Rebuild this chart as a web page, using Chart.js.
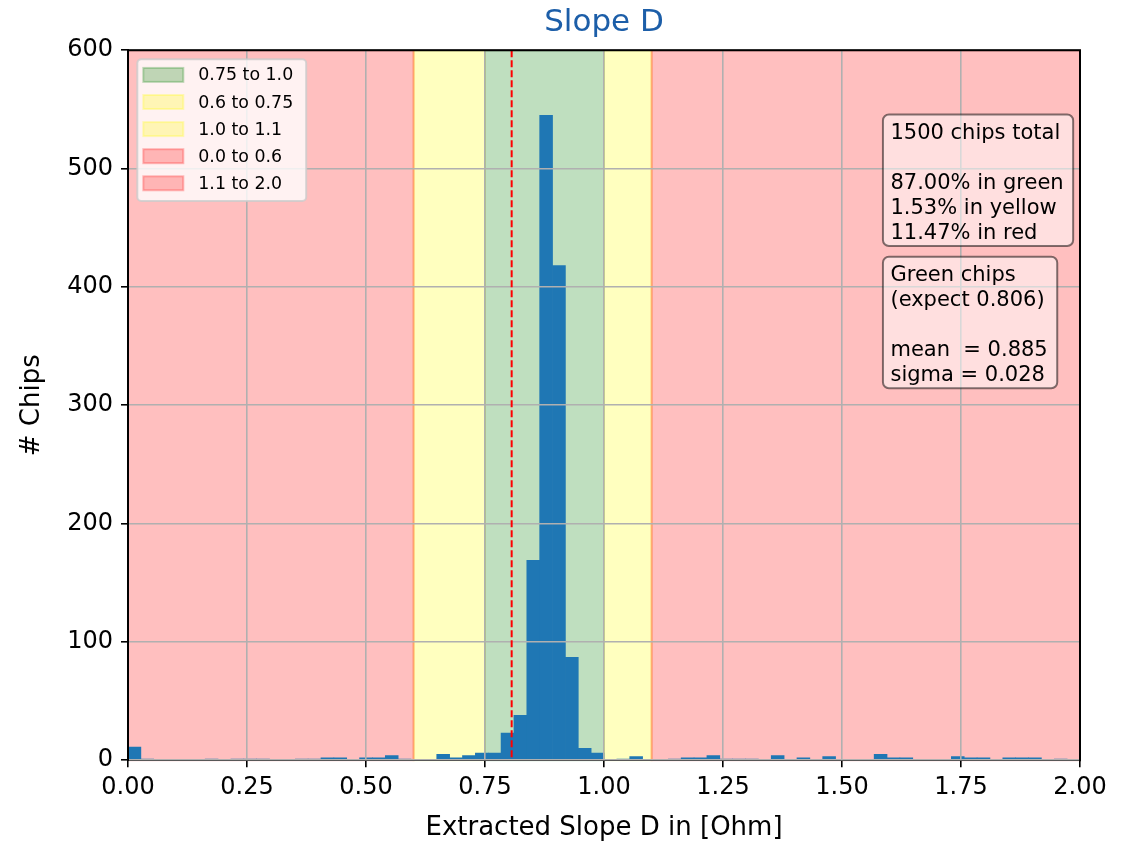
<!DOCTYPE html>
<html>
<head>
<meta charset="utf-8">
<script src="https://cdn.jsdelivr.net/npm/chart.js@4.4.1/dist/chart.umd.min.js"></script>
<style>
  html, body { margin: 0; padding: 0; background: #fff; }
</style>
</head>
<body>
<canvas id="chart" width="1139" height="841"></canvas>
<script>
// histogram: 74 equal bins over [0, 2]
const binRange = [0, 2];
const binCounts = [
  11, 1, 0, 0, 0, 0, 1, 0, 1, 1,
  1, 0, 0, 1, 1, 2, 2, 0, 2, 2,
  4, 1, 0, 0, 5, 2, 4, 6, 6, 23,
  38, 169, 545, 418, 87, 10, 6, 0, 1, 3,
  0, 0, 1, 2, 2, 4, 1, 1, 1, 0,
  4, 0, 2, 0, 3, 0, 0, 0, 5, 2,
  2, 0, 0, 0, 3, 2, 2, 0, 2, 2,
  2, 0, 1, 0
];
const xTicks = [0, 0.25, 0.5, 0.75, 1.0, 1.25, 1.5, 1.75, 2.0];
const yTicks = [0, 100, 200, 300, 400, 500, 600];

// colour zones (legend order)
const bandLabels = ['0.75 to 1.0', '0.6 to 0.75', '1.0 to 1.1', '0.0 to 0.6', '1.1 to 2.0'];
const bandStart = [0.75, 0.6, 1.0, 0.0, 1.1];
const bandEnd = [1.0, 0.75, 1.1, 0.6, 2.0];
const bandZone = ['green', 'yellow', 'yellow', 'red', 'red'];

const expectedSlope = 0.806;
const summaryLines = ['1500 chips total', '', '87.00% in green', '1.53% in yellow', '11.47% in red'];
const greenLines = ['Green chips', '(expect 0.806)', '', 'mean  = 0.885', 'sigma = 0.028'];

const zoneColors = {
  green: 'rgba(0,128,0,0.25)',
  yellow: 'rgba(255,255,0,0.25)',
  red: 'rgba(255,0,0,0.25)'
};

Chart.defaults.font.family = "'DejaVu Sans', sans-serif";
Chart.defaults.color = '#000';

const binWidth = (binRange[1] - binRange[0]) / binCounts.length;
const histData = binCounts.map((c, i) => ({ x: binRange[0] + (i + 0.5) * binWidth, y: c }));

function roundRect(ctx, x, y, w, h, r) {
  ctx.beginPath();
  ctx.moveTo(x + r, y);
  ctx.lineTo(x + w - r, y);
  ctx.arcTo(x + w, y, x + w, y + r, r);
  ctx.lineTo(x + w, y + h - r);
  ctx.arcTo(x + w, y + h, x + w - r, y + h, r);
  ctx.lineTo(x + r, y + h);
  ctx.arcTo(x, y + h, x, y + h - r, r);
  ctx.lineTo(x, y + r);
  ctx.arcTo(x, y, x + r, y, r);
  ctx.closePath();
}

function textBox(ctx, lines, left, top) {
  const lineH = 25;
  ctx.font = "21px 'DejaVu Sans'";
  const w = Math.max(...lines.map(l => ctx.measureText(l).width)) + 17;
  const h = lines.length * lineH + 6.5;
  roundRect(ctx, left, top, w, h, 6);
  ctx.fillStyle = 'rgba(255,255,255,0.5)';
  ctx.fill();
  ctx.strokeStyle = 'rgba(0,0,0,0.5)';
  ctx.lineWidth = 2;
  ctx.stroke();
  ctx.fillStyle = '#000';
  ctx.textBaseline = 'alphabetic';
  ctx.textAlign = 'left';
  lines.forEach((l, i) => ctx.fillText(l, left + 7.5, top + 24 + i * lineH));
}

const overlay = {
  id: 'overlay',
  beforeDraw(chart) {
    const { ctx, chartArea: a, scales: { x } } = chart;
    ctx.save();
    ctx.fillStyle = '#fff';
    ctx.fillRect(0, 0, chart.width, chart.height);
    bandStart.forEach((s, i) => {
      const l = x.getPixelForValue(s), r = x.getPixelForValue(bandEnd[i]);
      ctx.fillStyle = zoneColors[bandZone[i]];
      ctx.fillRect(l, a.top, r - l, a.bottom - a.top);
      ctx.strokeStyle = zoneColors[bandZone[i]];
      ctx.lineWidth = 2;
      ctx.strokeRect(l, a.top, r - l, a.bottom - a.top);
    });
    ctx.restore();
  },
  afterDraw(chart) {
    const { ctx, chartArea: a, scales: { x } } = chart;
    ctx.save();
    // expected value
    const ex = x.getPixelForValue(expectedSlope);
    ctx.strokeStyle = '#ff0000';
    ctx.lineWidth = 2;
    ctx.setLineDash([7, 3]);
    ctx.beginPath();
    ctx.moveTo(ex, a.top);
    ctx.lineTo(ex, a.bottom);
    ctx.stroke();
    ctx.setLineDash([]);

    // top / right spines
    ctx.strokeStyle = '#000';
    ctx.lineWidth = 2;
    ctx.beginPath();
    ctx.moveTo(a.left - 1, a.top);
    ctx.lineTo(a.right, a.top);
    ctx.lineTo(a.right, a.bottom + 1);
    ctx.stroke();

    // legend
    ctx.font = "17.4px 'DejaVu Sans'";
    const maxW = Math.max(...bandLabels.map(l => ctx.measureText(l).width));
    const lx = a.left + 9.3, ly = a.top + 9;
    roundRect(ctx, lx, ly, 61 + maxW + 13, 141.7, 4);
    ctx.fillStyle = 'rgba(255,255,255,0.8)';
    ctx.fill();
    ctx.strokeStyle = 'rgba(204,204,204,0.8)';
    ctx.lineWidth = 2;
    ctx.stroke();
    bandLabels.forEach((lab, i) => {
      const cy = ly + 15.7 + i * 27.1;
      ctx.fillStyle = zoneColors[bandZone[i]];
      ctx.fillRect(lx + 6, cy - 7, 40, 14);
      ctx.strokeStyle = zoneColors[bandZone[i]];
      ctx.strokeRect(lx + 6, cy - 7, 40, 14);
      ctx.fillStyle = '#000';
      ctx.textBaseline = 'middle';
      ctx.fillText(lab, lx + 61, cy + 1);
    });

    // text boxes
    const w = a.right - a.left, h = a.bottom - a.top;
    textBox(ctx, summaryLines, a.left + 0.793 * w, a.top + 0.0906 * h);
    textBox(ctx, greenLines, a.left + 0.793 * w, a.top + 0.291 * h);
    ctx.restore();
  }
};

new Chart(document.getElementById('chart'), {
  type: 'bar',
  data: {
    datasets: [{
      data: histData,
      backgroundColor: '#1f77b4',
      borderWidth: 0,
      barPercentage: 1,
      categoryPercentage: 1
    }]
  },
  options: {
    responsive: false,
    animation: false,
    layout: { padding: { left: 13, right: 59, top: 1, bottom: 0 } },
    plugins: {
      legend: { display: false },
      tooltip: { enabled: false },
      title: {
        display: true,
        fullSize: false,
        text: 'Slope D',
        color: '#1c5ea8',
        font: { size: 31, weight: 'normal' },
        padding: { top: 3, bottom: 9 }
      }
    },
    scales: {
      x: {
        type: 'linear',
        min: 0,
        max: 2,
        offset: false,
        afterBuildTicks: axis => { axis.ticks = xTicks.map(v => ({ value: v })); },
        ticks: { callback: v => v.toFixed(2), font: { size: 24 }, padding: 6, maxRotation: 0 },
        grid: { color: '#b0b0b0', lineWidth: 1.6, z: 1, tickLength: 7, tickColor: '#000', tickWidth: 1.6, offset: false },
        border: { color: '#000', width: 2, z: 1 },
        title: { display: true, text: 'Extracted Slope D in [Ohm]', font: { size: 26, lineHeight: 1.0 }, padding: { top: 7, bottom: 0 } }
      },
      y: {
        min: 0,
        max: 600,
        afterBuildTicks: axis => { axis.ticks = yTicks.map(v => ({ value: v })); },
        ticks: { font: { size: 24 }, padding: 8 },
        grid: { color: '#b0b0b0', lineWidth: 1.6, z: 1, tickLength: 7, tickColor: '#000', tickWidth: 1.6 },
        border: { color: '#000', width: 2, z: 1 },
        title: { display: true, text: '# Chips', font: { size: 26 }, padding: { top: 4, bottom: 11 } }
      }
    }
  },
  plugins: [overlay]
});
</script>
</body>
</html>
